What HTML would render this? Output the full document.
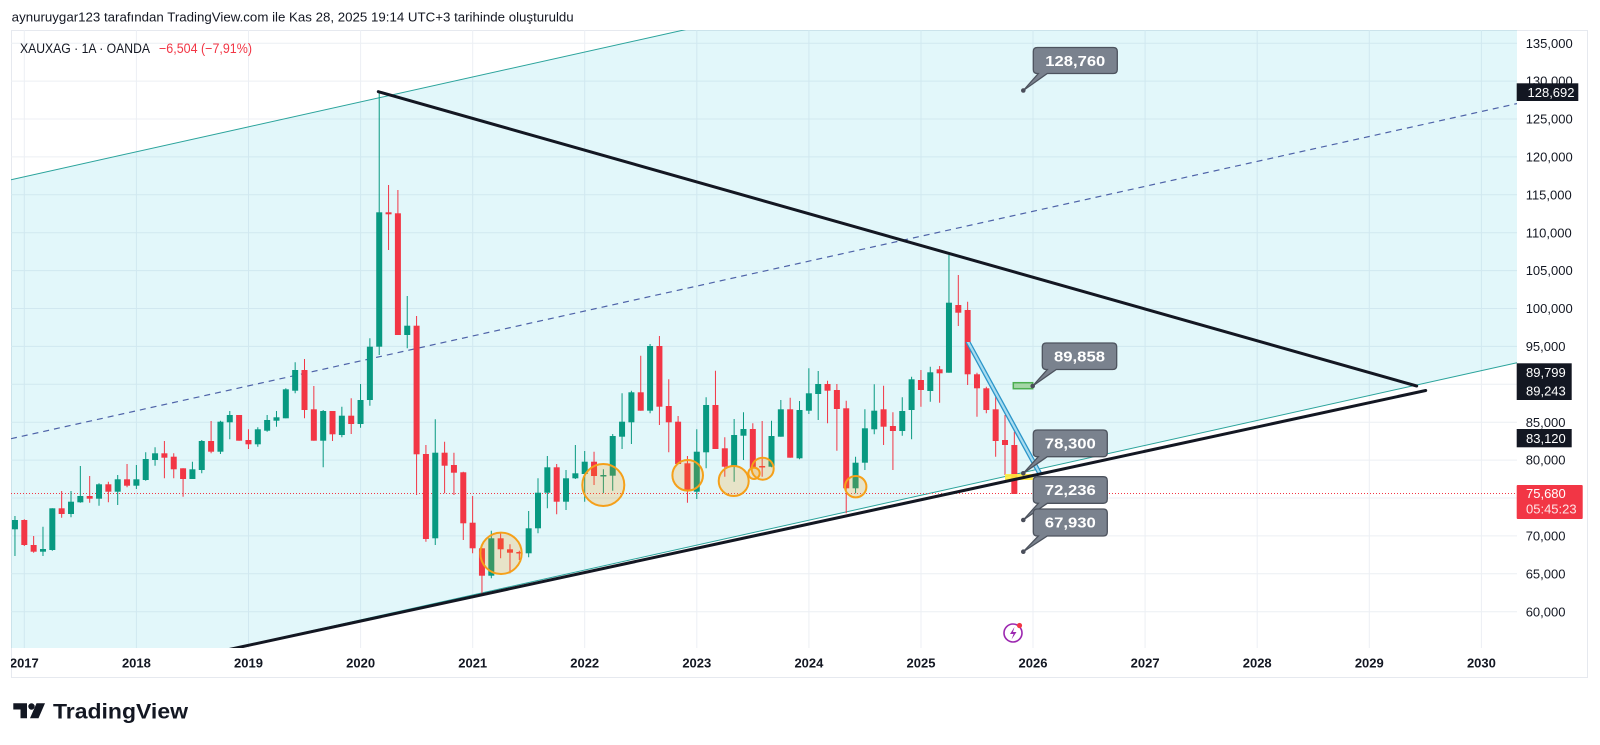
<!DOCTYPE html>
<html><head><meta charset="utf-8"><style>
html,body{margin:0;padding:0;background:#fff;}
svg{display:block;font-family:"Liberation Sans",sans-serif;}
</style></head><body>
<svg width="1600" height="745" viewBox="0 0 1600 745" xmlns="http://www.w3.org/2000/svg">
<defs><clipPath id="pane"><rect x="11" y="30" width="1506" height="618"/></clipPath></defs>
<rect width="1600" height="745" fill="#fff"/>
<text x="11.7" y="21.5" font-size="12.5" fill="#131722" textLength="562" lengthAdjust="spacingAndGlyphs">aynuruygar123 tarafından TradingView.com ile Kas 28, 2025 19:14 UTC+3 tarihinde oluşturuldu</text>
<g stroke="#e6e9ef" fill="none" stroke-width="1">
<path d="M11 30.5H1588 M11.5 30V678 M1587.5 30V678 M11 677.5H1588"/>
</g>
<g clip-path="url(#pane)">
<g stroke="#eceff4" stroke-width="1" fill="none">
<path d="M11 611.7H1517M11 573.8H1517M11 535.9H1517M11 498H1517M11 460.1H1517M11 422.2H1517M11 384.3H1517M11 346.4H1517M11 308.5H1517M11 270.6H1517M11 232.7H1517M11 194.8H1517M11 156.9H1517M11 119H1517M11 81.1H1517M11 43.2H1517"/>
<path d="M24.3 30V648M136.4 30V648M248.5 30V648M360.6 30V648M472.7 30V648M584.7 30V648M696.8 30V648M808.9 30V648M921 30V648M1033 30V648M1145.1 30V648M1257.2 30V648M1369.3 30V648M1481.4 30V648"/>
</g>
<polygon points="11,179.7 1517,-155.4 1517,362.7 11,697.7" fill="rgba(0,188,212,0.115)"/>
<line x1="11" y1="179.7" x2="1517" y2="-155.4" stroke="#2aa39b" stroke-width="1"/>
<line x1="11" y1="697.7" x2="1517" y2="362.7" stroke="#2aa39b" stroke-width="1"/>
<line x1="11" y1="438.7" x2="1517" y2="103.6" stroke="#4e63a8" stroke-width="1.2" stroke-dasharray="6 5"/>
<line x1="11" y1="493.5" x2="1517" y2="493.5" stroke="#f23645" stroke-width="1" stroke-dasharray="1 2"/>
<!-- candles -->
<g stroke="#089981" stroke-width="1" fill="none">
<path d="M14.96 516V556M42.98 526.7V556M52.32 508.3V550.7M71 491V517.3M80.34 466V502.7M99.02 483.3V505.7M117.7 475V505M136.38 465V489M145.72 452.3V480.7M155.06 447.3V465.7M192.42 461.7V479M201.76 440V473.3M220.44 420.7V454M229.78 411V439.3M257.8 427.3V446.7M267.14 415V431.7M276.48 411V426.7M285.82 388.3V418.3M295.16 362.3V393.3M323.18 410V467.3M341.86 406.7V437.3M360.54 384V427.7M369.88 338.3V405.7M379.22 91.7V355M407.24 296V348.3M435.26 419.3V545M491.3 530.7V578.3M528.66 511V557.3M538 478.3V533.3M547.34 456V508.3M566.02 470V510M575.36 445V479M584.7 451V501.7M603.38 469.3V493.3M612.72 434V490.7M622.06 393.3V449M631.4 390.7V444M650.08 344V413.3M696.78 429.3V499M706.12 397.3V468.3M734.14 419V481.7M743.48 412.3V460M771.5 420.7V467.3M780.84 400V436.7M799.52 401V459.3M808.86 368.3V414M818.2 371V420M855.56 456.7V493.3M864.9 409.3V470M874.24 384.3V434.3M902.26 397.3V435.7M911.6 376.7V439.3M930.28 366.7V401.7M948.96 255V372.7"/>
</g>
<g fill="#089981">
<rect x="11.96" y="520" width="6" height="9.3"/><rect x="39.98" y="549" width="6" height="2.7"/><rect x="49.32" y="508.3" width="6" height="41.7"/><rect x="68" y="501.7" width="6" height="12.3"/><rect x="77.34" y="496" width="6" height="6.3"/><rect x="96.02" y="484.3" width="6" height="14.4"/><rect x="114.7" y="479.3" width="6" height="12.4"/><rect x="133.38" y="479.3" width="6" height="6.4"/><rect x="142.72" y="459" width="6" height="21"/><rect x="152.06" y="453.3" width="6" height="6.7"/><rect x="189.42" y="469.3" width="6" height="9.7"/><rect x="198.76" y="441" width="6" height="29"/><rect x="217.44" y="421.7" width="6" height="30"/><rect x="226.78" y="415" width="6" height="7.3"/><rect x="254.8" y="429.3" width="6" height="15"/><rect x="264.14" y="420" width="6" height="10.7"/><rect x="273.48" y="417.3" width="6" height="3.4"/><rect x="282.82" y="389.3" width="6" height="29"/><rect x="292.16" y="370" width="6" height="20.7"/><rect x="320.18" y="411" width="6" height="29.7"/><rect x="338.86" y="415.7" width="6" height="19.3"/><rect x="357.54" y="400" width="6" height="24"/><rect x="366.88" y="346.7" width="6" height="53.3"/><rect x="376.22" y="212.3" width="6" height="134.4"/><rect x="404.24" y="325.7" width="6" height="9.3"/><rect x="432.26" y="452.7" width="6" height="85.6"/><rect x="488.3" y="538.3" width="6" height="37.4"/><rect x="525.66" y="528.3" width="6" height="25"/><rect x="535" y="492.7" width="6" height="35.6"/><rect x="544.34" y="467.3" width="6" height="25.4"/><rect x="563.02" y="478.3" width="6" height="23.4"/><rect x="572.36" y="473.3" width="6" height="5"/><rect x="581.7" y="461.7" width="6" height="12.3"/><rect x="600.38" y="475" width="6" height="1.5"/><rect x="609.72" y="436" width="6" height="39.7"/><rect x="619.06" y="421.7" width="6" height="15"/><rect x="628.4" y="392.3" width="6" height="30"/><rect x="647.08" y="346" width="6" height="64.7"/><rect x="693.78" y="451.7" width="6" height="40"/><rect x="703.12" y="405" width="6" height="47.3"/><rect x="731.14" y="435" width="6" height="31.7"/><rect x="740.48" y="429" width="6" height="6.7"/><rect x="768.5" y="436" width="6" height="30.7"/><rect x="777.84" y="409.3" width="6" height="27.4"/><rect x="796.52" y="410" width="6" height="48.3"/><rect x="805.86" y="393.3" width="6" height="17.4"/><rect x="815.2" y="384" width="6" height="10"/><rect x="852.56" y="462.7" width="6" height="25.6"/><rect x="861.9" y="428.3" width="6" height="34.4"/><rect x="871.24" y="410.7" width="6" height="18.6"/><rect x="899.26" y="411" width="6" height="20"/><rect x="908.6" y="379.3" width="6" height="30.7"/><rect x="927.28" y="372.3" width="6" height="18.7"/><rect x="945.96" y="302.7" width="6" height="70"/>
</g>
<g stroke="#f23645" stroke-width="1" fill="none">
<path d="M24.3 519.3V546M33.64 536V552.7M61.66 491V517.7M89.68 476V502.7M108.36 481.7V502.3M127.04 464V487.3M164.4 441V478.3M173.74 453.3V478.3M183.08 468.3V496.7M211.1 421V453.3M239.12 415V440.7M248.46 429.3V449M304.5 359V418.3M313.84 386V440.7M332.52 411V441M351.2 398.3V434M388.56 185V250M397.9 190V335M416.58 316V495M425.92 445V541.7M444.6 441.7V493.3M453.94 452.7V495M463.28 471.7V540M472.62 496V553.3M481.96 548.3V595M500.64 532.7V558.3M509.98 544.3V573.3M519.32 550.7V560M556.68 464V514.3M594.04 451.7V485M640.74 355.7V410.7M659.42 336V425M668.76 379.3V452.3M678.1 416V464M687.44 456V502.7M715.46 370.7V449M724.8 437.3V476.7M752.82 423.3V468.3M762.16 421V476.7M790.18 397.7V457.7M827.54 380.7V423.3M836.88 384V450.7M846.22 400.7V513.3M883.58 385.7V445M892.92 412.3V470M920.94 370V406.7M939.62 366V402.7M958.3 275V326M967.64 301.7V385M976.98 372.7V416.7M986.32 386.7V413.3M995.66 396.7V456.7M1005 415V475M1014.34 431.7V494"/>
</g>
<g fill="#f23645">
<rect x="21.3" y="520" width="6" height="25"/><rect x="30.64" y="545" width="6" height="6.7"/><rect x="58.66" y="508.3" width="6" height="5.7"/><rect x="86.68" y="496" width="6" height="2.7"/><rect x="105.36" y="484.3" width="6" height="7.4"/><rect x="124.04" y="479.3" width="6" height="6.4"/><rect x="161.4" y="453.3" width="6" height="4.4"/><rect x="170.74" y="456.7" width="6" height="12.6"/><rect x="180.08" y="468.3" width="6" height="10.7"/><rect x="208.1" y="441" width="6" height="10.7"/><rect x="236.12" y="415" width="6" height="25.7"/><rect x="245.46" y="440" width="6" height="4.3"/><rect x="301.5" y="370" width="6" height="40"/><rect x="310.84" y="409.3" width="6" height="31.4"/><rect x="329.52" y="411" width="6" height="23.3"/><rect x="348.2" y="415.7" width="6" height="8.3"/><rect x="385.56" y="212.3" width="6" height="2"/><rect x="394.9" y="213.3" width="6" height="121.7"/><rect x="413.58" y="325.7" width="6" height="128.6"/><rect x="422.92" y="454" width="6" height="85"/><rect x="441.6" y="452.7" width="6" height="13"/><rect x="450.94" y="465" width="6" height="7.7"/><rect x="460.28" y="472.3" width="6" height="51"/><rect x="469.62" y="522.7" width="6" height="25.6"/><rect x="478.96" y="548.3" width="6" height="27.4"/><rect x="497.64" y="538.3" width="6" height="11"/><rect x="506.98" y="549.3" width="6" height="3.4"/><rect x="516.32" y="552" width="6" height="1.5"/><rect x="553.68" y="467.3" width="6" height="34.4"/><rect x="591.04" y="461.7" width="6" height="14.3"/><rect x="637.74" y="392.3" width="6" height="18.4"/><rect x="656.42" y="346" width="6" height="60.7"/><rect x="665.76" y="406" width="6" height="16.3"/><rect x="675.1" y="421.7" width="6" height="42.3"/><rect x="684.44" y="463.3" width="6" height="26.7"/><rect x="712.46" y="405" width="6" height="44"/><rect x="721.8" y="448.3" width="6" height="18.4"/><rect x="749.82" y="429" width="6" height="39.3"/><rect x="759.16" y="466" width="6" height="1.5"/><rect x="787.18" y="409.3" width="6" height="48.4"/><rect x="824.54" y="384" width="6" height="6.7"/><rect x="833.88" y="390" width="6" height="19"/><rect x="843.22" y="408.3" width="6" height="80"/><rect x="880.58" y="409.3" width="6" height="17.4"/><rect x="889.92" y="426" width="6" height="5"/><rect x="917.94" y="380" width="6" height="10"/><rect x="936.62" y="369.3" width="6" height="4"/><rect x="955.3" y="305" width="6" height="7.7"/><rect x="964.64" y="310" width="6" height="64.3"/><rect x="973.98" y="374.3" width="6" height="14"/><rect x="983.32" y="388.3" width="6" height="21.7"/><rect x="992.66" y="409.3" width="6" height="31.7"/><rect x="1002" y="440" width="6" height="5"/><rect x="1011.34" y="445" width="6" height="49"/>
</g>
<!-- circles -->
<g fill="rgba(255,152,0,0.2)" stroke="#f5a01a" stroke-width="2">
<circle cx="501" cy="553.3" r="20.7"/>
<circle cx="603.3" cy="485" r="21"/>
<circle cx="687.7" cy="475.3" r="15.3"/>
<circle cx="733.7" cy="481" r="15"/>
<circle cx="754" cy="473.3" r="5.7"/>
<circle cx="762.7" cy="468.7" r="11"/>
<circle cx="855.7" cy="486.7" r="10.7"/>
</g>
<!-- yellow highlight -->
<rect x="1005" y="474" width="28" height="6" fill="#ffeb3b" opacity="0.9"/>
<!-- blue double line -->
<polygon points="966,342 970,342 1042,474 1038,474" fill="#a8dcf0"/>
<line x1="966" y1="342" x2="1038" y2="474" stroke="#2b95c9" stroke-width="1.3"/>
<line x1="970" y1="342" x2="1042" y2="474" stroke="#2b95c9" stroke-width="1.3"/>
<!-- black lines -->
<line x1="378.3" y1="91.7" x2="1416.7" y2="386" stroke="#131722" stroke-width="3" stroke-linecap="round"/>
<line x1="200" y1="655.8" x2="1425.7" y2="390.5" stroke="#131722" stroke-width="3" stroke-linecap="round"/>
<!-- green rect -->
<rect x="1013.3" y="382.7" width="19.4" height="6" fill="#a5d6a7" stroke="#4caf50" stroke-width="1.5"/>
</g>
<!-- callouts -->
<g fill="#7a828e" stroke="#4d535e" stroke-width="1.3">
<path d="M1037.3 47.5H1113.3Q1117.3 47.5 1117.3 51.5V69.5Q1117.3 73.5 1113.3 73.5H1047.3L1023.3 90.5L1038.3 73.5H1037.3Q1033.3 73.5 1033.3 69.5V51.5Q1033.3 47.5 1037.3 47.5Z"/>
<path d="M1046.3 343H1112.7Q1116.7 343 1116.7 347V365.5Q1116.7 369.5 1112.7 369.5H1056.3L1032.7 386L1047.3 369.5H1046.3Q1042.3 369.5 1042.3 365.5V347Q1042.3 343 1046.3 343Z"/>
<path d="M1037.3 430H1103.3Q1107.3 430 1107.3 434V452.7Q1107.3 456.7 1103.3 456.7H1047.3L1023.3 473.3L1038.3 456.7H1037.3Q1033.3 456.7 1033.3 452.7V434Q1033.3 430 1037.3 430Z"/>
<path d="M1037.3 476.7H1103.3Q1107.3 476.7 1107.3 480.7V499.3Q1107.3 503.3 1103.3 503.3H1047.3L1023.3 520L1038.3 503.3H1037.3Q1033.3 503.3 1033.3 499.3V480.7Q1033.3 476.7 1037.3 476.7Z"/>
<path d="M1037.3 509H1103.3Q1107.3 509 1107.3 513V532Q1107.3 536 1103.3 536H1047.3L1023.3 551.7L1038.3 536H1037.3Q1033.3 536 1033.3 532V513Q1033.3 509 1037.3 509Z"/>
</g>
<g fill="#4a4e5a">
<circle cx="1023.3" cy="90.5" r="2.3"/><circle cx="1032.7" cy="386" r="2.3"/><circle cx="1023.3" cy="473.3" r="2.3"/><circle cx="1023.3" cy="520" r="2.3"/><circle cx="1023.3" cy="551.7" r="2.3"/>
</g>
<g fill="#fff" font-size="15" font-weight="bold" text-anchor="middle">
<text x="1075.3" y="66" textLength="60" lengthAdjust="spacingAndGlyphs">128,760</text>
<text x="1079.5" y="361.5" textLength="51" lengthAdjust="spacingAndGlyphs">89,858</text>
<text x="1070.3" y="448.5" textLength="51" lengthAdjust="spacingAndGlyphs">78,300</text>
<text x="1070.3" y="495" textLength="51" lengthAdjust="spacingAndGlyphs">72,236</text>
<text x="1070.3" y="527.5" textLength="51" lengthAdjust="spacingAndGlyphs">67,930</text>
</g>
<!-- symbol line -->
<text x="20" y="52.8" font-size="13.5" fill="#131722" textLength="130" lengthAdjust="spacingAndGlyphs">XAUXAG · 1A · OANDA</text>
<text x="159" y="52.8" font-size="13.5" fill="#f23645" textLength="93" lengthAdjust="spacingAndGlyphs">−6,504 (−7,91%)</text>
<!-- price axis -->
<g font-size="13" fill="#131722">
<text x="1525.7" y="47.8">135,000</text>
<text x="1525.7" y="85.7">130,000</text>
<text x="1525.7" y="123.6">125,000</text>
<text x="1525.7" y="161.5">120,000</text>
<text x="1525.7" y="199.4">115,000</text>
<text x="1525.7" y="237.3">110,000</text>
<text x="1525.7" y="275.2">105,000</text>
<text x="1525.7" y="313.1">100,000</text>
<text x="1525.7" y="351">95,000</text>
<text x="1525.7" y="426.8">85,000</text>
<text x="1525.7" y="464.7">80,000</text>
<text x="1525.7" y="540.5">70,000</text>
<text x="1525.7" y="578.4">65,000</text>
<text x="1525.7" y="616.3">60,000</text>
</g>
<rect x="1516.7" y="83.3" width="61.6" height="17.7" fill="#131722"/>
<text x="1527.5" y="96.8" font-size="13" fill="#fff">128,692</text>
<rect x="1516.7" y="363.3" width="55" height="36.7" fill="#131722"/>
<text x="1526" y="377" font-size="13" fill="#fff">89,799</text>
<text x="1526" y="395.4" font-size="13" fill="#fff">89,243</text>
<rect x="1516.7" y="429" width="55" height="18.3" fill="#131722"/>
<text x="1526" y="442.8" font-size="13" fill="#fff">83,120</text>
<rect x="1516.7" y="485" width="66" height="34" fill="#f23645" rx="1"/>
<text x="1526" y="498" font-size="13" fill="#fff">75,680</text>
<text x="1526" y="513.7" font-size="13" fill="#fde4e6">05:45:23</text>
<!-- time axis -->
<g font-size="13" font-weight="bold" fill="#131722" text-anchor="middle">
<svg x="11" y="640" width="1506" height="40" overflow="hidden"><text x="13.3" y="27.7">2017</text></svg>
<text x="136.4" y="667.7">2018</text>
<text x="248.5" y="667.7">2019</text>
<text x="360.6" y="667.7">2020</text>
<text x="472.7" y="667.7">2021</text>
<text x="584.7" y="667.7">2022</text>
<text x="696.8" y="667.7">2023</text>
<text x="808.9" y="667.7">2024</text>
<text x="921" y="667.7">2025</text>
<text x="1033" y="667.7">2026</text>
<text x="1145.1" y="667.7">2027</text>
<text x="1257.2" y="667.7">2028</text>
<text x="1369.3" y="667.7">2029</text>
<text x="1481.4" y="667.7">2030</text>
</g>
<!-- flash icon -->
<circle cx="1013" cy="633" r="9" fill="none" stroke="#9c27b0" stroke-width="1.6"/>
<path d="M1014.5 627L1010 634H1013.5L1011.5 639.5L1016.5 632H1013Z" fill="#9c27b0"/>
<circle cx="1019.5" cy="625.5" r="2.6" fill="#f23645"/>
<!-- logo -->
<g fill="#131722">
<path d="M13.3 703.3H27V718.3H20.5V709.5H13.3Z"/>
<circle cx="31.5" cy="706.5" r="3.2"/>
<polygon points="36.5,703.3 45,703.3 38.5,718.3 30,718.3"/>
<text x="53" y="718.3" font-size="21" font-weight="bold" textLength="135" lengthAdjust="spacingAndGlyphs">TradingView</text>
</g>
</svg>
</body></html>
